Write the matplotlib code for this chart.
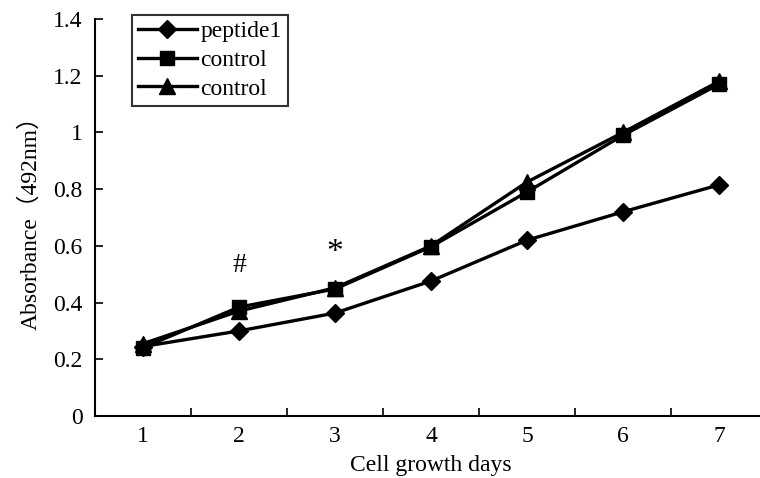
import matplotlib
matplotlib.use("Agg")
import matplotlib.pyplot as plt
from matplotlib.ticker import FixedLocator

plt.rcParams['font.family'] = ['Liberation Serif', 'Noto Sans CJK SC', 'DejaVu Sans']

days = [1, 2, 3, 4, 5, 6, 7]
peptide1 = [0.245, 0.30, 0.363, 0.476, 0.62, 0.72, 0.815]
control_sq = [0.241, 0.384, 0.448, 0.597, 0.79, 0.99, 1.17]
control_tri = [0.255, 0.37, 0.452, 0.60, 0.825, 1.00, 1.18]
yticks = [0, 0.2, 0.4, 0.6, 0.8, 1.0, 1.2, 1.4]
ytick_labels = ['0', '0.2', '0.4', '0.6', '0.8', '1', '1.2', '1.4']
marks = [('#', 2, 0.53, 20), ('*', 3, 0.575, 24)]

fig = plt.figure(figsize=(7.6, 4.78), dpi=100)
W, H = 760, 478
# axis box in pixels: left 95, right 767 (runs past the edge like the source), y0 at 416, y1.4 at 19
ax = fig.add_axes([95 / W, (H - 416) / H, (767 - 95) / W, (416 - 19) / H])

lw = 2.4
ax.plot(days, peptide1, color='black', lw=lw, marker='D', ms=9, label='peptide1', zorder=3)
ax.plot(days, control_sq, color='black', lw=lw, marker='s', ms=10, label='control', zorder=4)
ax.plot(days, control_tri, color='black', lw=lw, marker='^', ms=11, label='control', zorder=5)

for txt, x, y, fs in marks:
    ax.text(x, y, txt, ha='center', va='center', fontsize=fs)

ax.set_xlim(0.5, 7.5)
ax.set_ylim(0, 1.4)
ax.set_yticks(yticks)
ax.set_yticklabels(ytick_labels)
ax.set_xticks(days)
ax.set_xticklabels([str(d) for d in days])
ax.xaxis.set_minor_locator(FixedLocator([d + 0.5 for d in days[:-1]]))
ax.tick_params(axis='x', which='major', length=0, pad=7, labelsize=17)
ax.tick_params(axis='x', which='minor', direction='in', length=6, width=1.2)
ax.tick_params(axis='y', direction='in', length=6, width=1.2, pad=9, labelsize=17)

for s in ['top', 'right']:
    ax.spines[s].set_visible(False)
for s in ['left', 'bottom']:
    ax.spines[s].set_linewidth(1.5)

ax.set_xlabel('Cell growth days', fontsize=17, labelpad=6)
ax.set_ylabel('Absorbance（492nm）', fontsize=17, labelpad=8)

leg = ax.legend(loc='upper left', bbox_to_anchor=((132 - 95) / 672, 1.01),
                frameon=True, fancybox=False, edgecolor='black', fontsize=17,
                handlelength=2.5, handletextpad=0.15, borderpad=0.25, labelspacing=0.3,
                borderaxespad=0)
leg.get_frame().set_linewidth(1.5)

fig.savefig('out.png', dpi=100)
